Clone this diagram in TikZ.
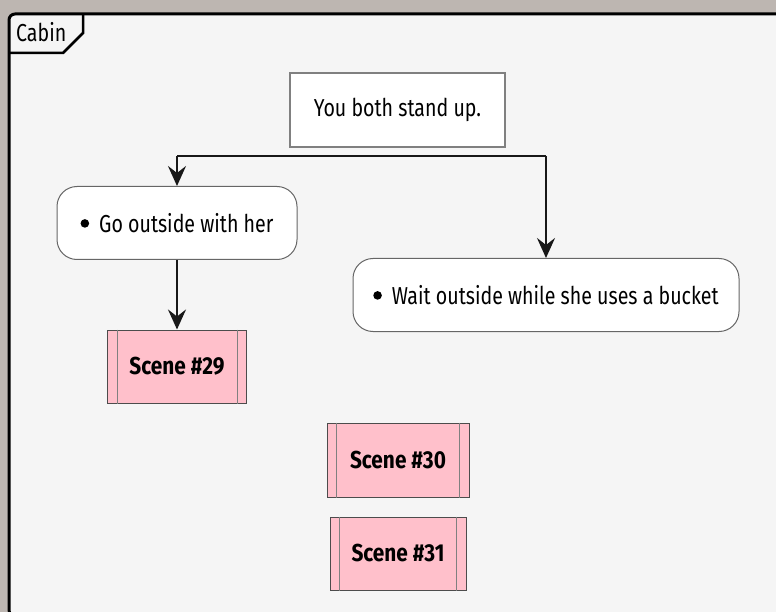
\documentclass[tikz,border=0pt]{standalone}
\usepackage{fontspec}
\setmainfont[FakeStretch=0.8,BoldFeatures={FakeStretch=0.85}]{Fira Sans}
\usetikzlibrary{arrows.meta}
\definecolor{bgphoto}{HTML}{BDB6B1}
\definecolor{framefill}{HTML}{F5F5F5}
\definecolor{scenepink}{HTML}{FFC0CB}
\definecolor{linecol}{HTML}{181818}
\newcommand{\optbullet}{\tikz[baseline=-9pt]\fill (0,0) circle (4.3pt);\hspace{10pt}}
\tikzset{
  txt/.style={font=\fontsize{24.5}{28}\selectfont},
  optbox/.style={txt, draw=black!60, fill=white, rounded corners=20pt, line width=1pt,
    minimum height=73pt, inner xsep=0pt, align=center},
  titlebox/.style={txt, draw=black!50, fill=white, line width=1.2pt, minimum width=215pt,
    minimum height=74pt},
  scenebox/.style={draw=black!70, fill=scenepink, line width=1pt, minimum height=73pt,
    font=\bfseries\fontsize{24.5}{28}\selectfont},
  flow/.style={draw=linecol, line width=2.2pt, -{Stealth[length=20pt,width=18pt,inset=7pt]}},
  flowplain/.style={draw=linecol, line width=2.2pt},
  sideline/.style={draw=black!50, line width=1pt}
}
\begin{document}
\begin{tikzpicture}[x=1pt,y=-1pt]
\useasboundingbox (0,0) rectangle (776,612);
\fill[bgphoto] (0,0) rectangle (776,612);
% frame
\draw[line width=3pt, fill=framefill, rounded corners=6pt] (9,616) -- (9,14) -- (790,14) -- (790,616) -- cycle;
\draw[line width=2.5pt] (83,14) -- (83,33) -- (63,53) -- (9,53);
\node[anchor=base west, inner sep=0pt, txt] (cabin) at (16,41.5) {Cabin};
% title
\node[titlebox] (title) at (397.5,110) {You both stand up.};
% options
\node[optbox, minimum width=240pt] (go) at (177,223) {\optbullet Go outside with her};
\node[optbox, minimum width=386pt] (wait) at (546,295) {\optbullet Wait outside while she uses a bucket};
% scenes
\node[scenebox, minimum width=139pt] (s29) at (177,366.5) {Scene \#29};
\node[scenebox, minimum width=142pt, minimum height=74pt] (s30) at (398,460) {Scene \#30};
\node[scenebox, minimum width=136pt] (s31) at (398,553.5) {Scene \#31};
\foreach \s in {s29,s30,s31}{
  \draw[sideline] ([xshift=10pt]\s.north west) -- ([xshift=10pt]\s.south west);
  \draw[sideline] ([xshift=-10pt]\s.north east) -- ([xshift=-10pt]\s.south east);
}
% connectors
\coordinate (forkL) at (177,156);
\coordinate (forkR) at (546,156);
\draw[flowplain] (forkL) -- (forkR);
\draw[flow] (forkL) -- (go.north);
\draw[flow] (forkR) -- (wait.north);
\draw[flow] (go.south) -- (s29.north);
\end{tikzpicture}
\end{document}
